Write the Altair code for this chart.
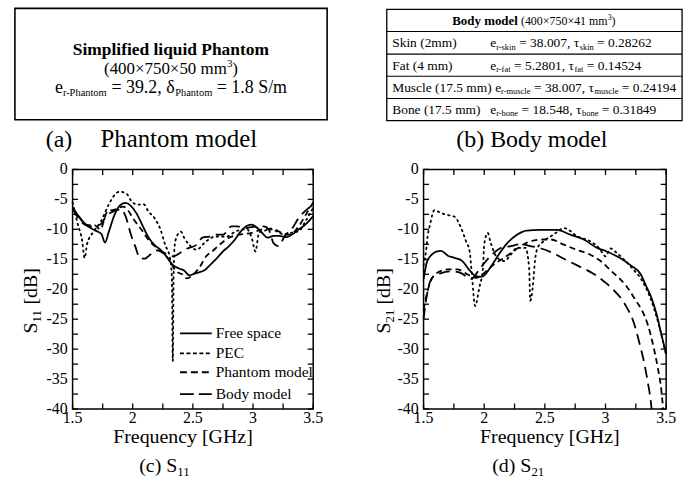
import altair as alt
import pandas as pd

FONT = "Liberation Serif"

# ---------------- data ----------------
SERIES = ["Free space", "PEC", "Phantom model", "Body model"]

s11_free_f = [1.5, 1.55, 1.6, 1.65, 1.7, 1.74, 1.77, 1.8, 1.85, 1.9, 1.94, 1.98, 2.03, 2.08, 2.13, 2.18,
              2.23, 2.28, 2.33, 2.38, 2.43, 2.47, 2.5, 2.55, 2.6, 2.65, 2.7, 2.75, 2.8, 2.85, 2.9, 2.95,
              2.99, 3.03, 3.08, 3.12, 3.17, 3.22, 3.28, 3.33, 3.38, 3.43, 3.5]
s11_free_v = [-6.3, -7.8, -9.0, -9.8, -10.3, -10.8, -12.2, -10.5, -7.5, -5.9, -5.6, -6.0, -7.3, -9.3, -11.3, -12.6,
              -13.4, -14.5, -15.9, -16.5, -16.9, -17.7, -17.5, -17.2, -16.8, -15.8, -14.8, -13.7, -12.8, -11.7, -10.3, -9.4,
              -9.2, -9.7, -10.7, -11.4, -11.1, -11.1, -11.3, -10.8, -10.0, -9.3, -7.8]

s11_pec_f = [1.5, 1.54, 1.58, 1.6, 1.62, 1.67, 1.73, 1.8, 1.84, 1.89, 1.95, 1.99, 2.04, 2.09, 2.13, 2.18, 2.23,
             2.27, 2.31, 2.325, 2.333, 2.34, 2.35, 2.37, 2.4, 2.43, 2.47, 2.53, 2.61, 2.69, 2.78, 2.86, 2.95,
             2.99, 3.02, 3.05, 3.1, 3.16, 3.21, 3.27, 3.33, 3.38, 3.44, 3.5]
s11_pec_v = [-5.5, -8.9, -12.0, -14.8, -12.5, -10.5, -8.9, -5.9, -4.5, -3.7, -4.1, -5.3, -5.9, -5.8, -7.0, -8.1, -10.0,
             -12.6, -14.8, -18.0, -32.0, -17.0, -12.5, -11.0, -10.4, -11.5, -12.6, -13.4, -12.0, -11.2, -11.2, -10.3, -10.0,
             -11.5, -13.7, -10.5, -10.2, -10.0, -10.5, -10.9, -10.5, -10.3, -8.5, -6.4]

s11_ph_f = [1.5, 1.55, 1.59, 1.63, 1.68, 1.73, 1.79, 1.85, 1.92, 1.96, 2.0, 2.07, 2.14, 2.22, 2.31, 2.36, 2.42,
            2.45, 2.5, 2.56, 2.61, 2.66, 2.72, 2.8, 2.885, 2.99, 3.08, 3.16, 3.24, 3.3, 3.38, 3.44, 3.5]
s11_ph_v = [-6.5, -7.8, -8.9, -9.3, -9.3, -10.0, -7.0, -6.7, -6.2, -6.8, -8.1, -10.0, -12.0, -13.4, -15.3, -17.0, -17.6,
            -18.2, -17.6, -16.2, -14.5, -13.7, -12.6, -11.4, -10.9, -10.6, -10.0, -9.9, -10.6, -10.9, -9.5, -7.5, -5.5]

s11_body_f = [1.5, 1.57, 1.65, 1.73, 1.78, 1.84, 1.91, 1.94, 1.99, 2.02, 2.06, 2.1, 2.13, 2.2, 2.27, 2.34, 2.39,
              2.43, 2.47, 2.53, 2.58, 2.64, 2.69, 2.75, 2.82, 2.87, 2.93, 3.0, 3.09, 3.13, 3.17, 3.21, 3.27,
              3.32, 3.38, 3.43, 3.5]
s11_body_v = [-6.5, -8.7, -9.5, -9.2, -7.8, -7.0, -6.7, -7.8, -11.2, -12.8, -14.8, -14.9, -14.5, -13.5, -14.0, -14.5, -14.0,
              -13.4, -13.1, -12.6, -11.4, -11.2, -10.9, -10.9, -9.5, -9.5, -9.8, -9.6, -9.5, -10.0, -12.3, -12.8, -10.9,
              -10.0, -8.1, -7.0, -5.9]

s21_free_f = [1.5, 1.53, 1.57, 1.61, 1.645, 1.7, 1.76, 1.82, 1.87, 1.93, 1.98, 2.05, 2.12, 2.19, 2.27, 2.35,
              2.46, 2.6, 2.71, 2.82, 2.93, 3.01, 3.12, 3.2, 3.29, 3.34, 3.38, 3.42, 3.46, 3.5]
s21_free_v = [-18.3, -15.3, -14.2, -13.7, -13.6, -14.4, -14.8, -15.3, -16.6, -17.8, -17.9, -16.4, -14.2, -12.3, -10.9, -10.2,
              -10.1, -10.1, -10.9, -11.7, -13.1, -13.7, -14.8, -15.9, -17.5, -19.7, -21.5, -24.1, -27.5, -30.8]

s21_pec_f = [1.5, 1.52, 1.535, 1.55, 1.59, 1.645, 1.7, 1.755, 1.81, 1.85, 1.88, 1.9, 1.925, 1.96, 1.99, 2.0, 2.03,
             2.05, 2.11, 2.165, 2.22, 2.27, 2.34, 2.37, 2.38, 2.4, 2.42, 2.44, 2.49, 2.57, 2.66, 2.77, 2.875,
             2.95, 3.0, 3.04, 3.09, 3.15, 3.22, 3.3, 3.38, 3.44, 3.5]
s21_pec_v = [-16.0, -13.7, -10.9, -9.5, -6.8, -7.3, -7.6, -7.9, -9.8, -12.0, -13.7, -18.0, -22.8, -19.7, -16.4, -12.5, -10.6,
             -12.0, -14.8, -15.3, -14.2, -13.1, -13.1, -16.4, -21.9, -19.7, -15.0, -13.1, -12.0, -10.9, -9.8, -11.2, -12.0,
             -13.2, -14.5, -13.2, -13.9, -15.0, -16.5, -18.5, -22.0, -26.0, -31.0]

s21_ph_f = [1.5, 1.52, 1.56, 1.61, 1.7, 1.78, 1.86, 1.93, 2.0, 2.07, 2.16, 2.24, 2.3, 2.38, 2.49, 2.55, 2.65,
            2.76, 2.87, 2.96, 3.05, 3.12, 3.18, 3.25, 3.3, 3.35, 3.39, 3.43, 3.46, 3.475]
s21_ph_v = [-23.5, -21.4, -18.6, -17.3, -16.7, -16.7, -17.5, -18.1, -17.3, -16.0, -14.8, -13.7, -12.8, -12.0, -11.7, -11.7,
            -12.5, -13.4, -14.2, -15.3, -17.0, -18.3, -19.7, -21.9, -23.5, -26.0, -29.1, -33.0, -36.8, -40.0]

s21_body_f = [1.5, 1.52, 1.57, 1.645, 1.73, 1.81, 1.89, 1.97, 2.05, 2.14, 2.22, 2.3, 2.38, 2.47, 2.56, 2.665,
              2.775, 2.9, 3.0, 3.06, 3.16, 3.24, 3.28, 3.32, 3.35, 3.37, 3.38]
s21_body_v = [-25.0, -21.9, -18.1, -17.3, -17.0, -17.3, -18.3, -16.4, -14.5, -13.1, -12.8, -12.5, -12.8, -13.2, -13.9, -15.0,
              -16.1, -17.4, -18.9, -20.0, -22.5, -26.0, -29.0, -32.4, -35.7, -38.2, -40.0]

TICK_X = [1.5, 1.75, 2.0, 2.25, 2.5, 2.75, 3.0, 3.25, 3.5]
TICK_Y = [0, -2.5, -5, -7.5, -10, -12.5, -15, -17.5, -20, -22.5, -25, -27.5, -30, -32.5, -35, -37.5, -40]
LABEL_X = [1.5, 2, 2.5, 3, 3.5]
LABEL_X_TEXT = ["1.5", "2", "2.5", "3", "3.5"]
LABEL_Y = [0, -5, -10, -15, -20, -25, -30, -35, -40]
LABEL_Y_TEXT = ["0", "-5", "-10", "-15", "-20", "-25", "-30", "-35", "-40"]

X_MIN, X_MAX = 1.5, 3.5
Y_MIN, Y_MAX = -40, 0

# ---------------- text metrics (Times) ----------------
TR = {' ': 250, '(': 333, ')': 333, ',': 250, '-': 333, '.': 250, '/': 278, '=': 564, '[': 333, ']': 333,
      '×': 564, '³': 300, 'δ': 500, 'τ': 440,
      'A': 722, 'B': 667, 'C': 667, 'D': 722, 'E': 611, 'F': 556, 'G': 722, 'H': 722, 'I': 333, 'M': 889,
      'P': 556, 'S': 556, 'T': 611,
      'a': 444, 'b': 500, 'c': 444, 'd': 500, 'e': 444, 'f': 333, 'g': 500, 'h': 500, 'i': 278, 'k': 500,
      'l': 278, 'm': 778, 'n': 500, 'o': 500, 'p': 500, 'q': 500, 'r': 333, 's': 389, 't': 278, 'u': 500,
      'v': 500, 'y': 500, 'z': 444}
TB = {' ': 250, '(': 333, ')': 333, 'B': 667, 'S': 556, 'P': 611, 'a': 500, 'd': 556, 'e': 444, 'f': 333,
      'h': 556, 'i': 278, 'l': 278, 'm': 833, 'n': 556, 'o': 500, 'p': 556, 'q': 556, 't': 333, 'u': 556,
      'y': 500}


def tw(s, size, bold=False):
    table = TB if bold else TR
    return sum(table.get(ch, 500) for ch in s) * size / 1000.0


ONE = pd.DataFrame({"k": [0]})


def txt(x, y, s, size, ox, oy, bold=False, align="left", angle=None):
    kw = dict(align=align, baseline="alphabetic", font=FONT, fontSize=size, color="black")
    if bold:
        kw["fontWeight"] = "bold"
    if angle is not None:
        kw["angle"] = angle
    return alt.Chart(ONE).mark_text(**kw).encode(
        x=alt.value(x - ox), y=alt.value(y - oy), text=alt.value(s))


def rich(segs, x0, y0, ox, oy, center=False):
    total = sum(tw(t, s, b) for t, s, d, b in segs)
    x = x0 - total / 2.0 if center else x0
    out = []
    for t, s, d, b in segs:
        lead = len(t) - len(t.lstrip(' '))
        st = t.strip(' ')
        if st:
            out.append(txt(x + tw(' ' * lead, s, b), y0 + d, st, s, ox, oy, bold=b))
        x += tw(t, s, b)
    return out


def rich_rot(segs, bx, y0, ox, oy):
    y = y0
    out = []
    for t, s, d, b in segs:
        lead = len(t) - len(t.lstrip(' '))
        st = t.strip(' ')
        if st:
            out.append(txt(bx + d, y - tw(' ' * lead, s, b), st, s, ox, oy, bold=b, angle=270))
        y -= tw(t, s, b)
    return out


def hline(x1, x2, y, ox, oy, w=1.2):
    return alt.Chart(ONE).mark_rule(color="black", strokeWidth=w).encode(
        x=alt.value(x1 - ox), x2=alt.value(x2 - ox), y=alt.value(y - oy))


def solid_rect(x1, y1, x2, y2):
    # small filled rectangle in panel pixel coordinates (used for tick marks)
    return alt.Chart(ONE).mark_rect(color="black", opacity=1).encode(
        x=alt.value(min(x1, x2)), x2=alt.value(max(x1, x2)),
        y=alt.value(min(y1, y2)), y2=alt.value(max(y1, y2)))


def box(x1, y1, x2, y2, ox, oy, w=1.5):
    return alt.Chart(ONE).mark_rect(filled=False, stroke="black", strokeWidth=w).encode(
        x=alt.value(x1 - ox), x2=alt.value(x2 - ox), y=alt.value(y1 - oy), y2=alt.value(y2 - oy))


def frame(x1, x2, ox, oy):
    # invisible rectangle fixing the extent of each panel
    return alt.Chart(ONE).mark_rect(filled=False, stroke="white", strokeOpacity=0, strokeWidth=0).encode(
        x=alt.value(x1 - ox), x2=alt.value(x2 - ox), y=alt.value(0 - oy), y2=alt.value(481 - oy))


XS = alt.Scale(domain=[X_MIN, X_MAX], nice=False, zero=False)
YS = alt.Scale(domain=[Y_MIN, Y_MAX], nice=False, zero=False)

DASHES = {"Free space": None, "PEC": [1.5, 4], "Phantom model": [6, 4], "Body model": [11, 6]}
LEG_DASHES = {"Free space": None, "PEC": [4, 2.5], "Phantom model": [7, 4], "Body model": [14, 5]}


def line_layer(f, v, name):
    df = pd.DataFrame({"f": f, "v": v})
    mk = dict(color="black", strokeWidth=1.8, interpolate="monotone")
    if DASHES[name]:
        mk["strokeDash"] = DASHES[name]
        if name == "PEC":
            mk["strokeCap"] = "round"
    return alt.Chart(df).mark_line(**mk).encode(
        x=alt.X("f:Q", scale=XS, axis=None),
        y=alt.Y("v:Q", scale=YS, axis=None))


def tick_layers(W, H):
    # inward ticks on all four sides, placed with the same linear mapping as the scales
    L = 5.5
    hw = 0.65
    out = []
    for t in TICK_X:
        px = (t - X_MIN) / (X_MAX - X_MIN) * W
        out.append(solid_rect(px - hw, H - L, px + hw, H))
        out.append(solid_rect(px - hw, 0, px + hw, L))
    for t in TICK_Y:
        py = (Y_MAX - t) / (Y_MAX - Y_MIN) * H
        out.append(solid_rect(0, py - hw, L, py + hw))
        out.append(solid_rect(W - L, py - hw, W, py + hw))
    return out


def label_layers(H):
    lx = pd.DataFrame({"f": LABEL_X, "lab": LABEL_X_TEXT})
    ly = pd.DataFrame({"v": LABEL_Y, "lab": LABEL_Y_TEXT})
    common = dict(font=FONT, fontSize=16, color="black")
    return [
        alt.Chart(lx).mark_text(align="center", baseline="top", dy=1, **common).encode(
            x=alt.X("f:Q", scale=XS, axis=None), y=alt.value(H), text="lab:N"),
        alt.Chart(ly).mark_text(align="right", baseline="middle", **common).encode(
            y=alt.Y("v:Q", scale=YS, axis=None), x=alt.value(-5), text="lab:N"),
    ]


OY = 168
H = 241

# ---------------- left panel ----------------
OXL = 72
WL = 242
left_layers = [frame(0, 347, OXL, OY)]
series_left = [(s11_free_f, s11_free_v), (s11_pec_f, s11_pec_v), (s11_ph_f, s11_ph_v), (s11_body_f, s11_body_v)]
for name, (f, v) in zip(SERIES, series_left):
    left_layers.append(line_layer(f, v, name))
left_layers += tick_layers(WL, H)
left_layers += label_layers(H)

# legend
leg_y = [333, 353, 372, 394]
for name, ly in zip(SERIES, leg_y):
    mk = dict(color="black", strokeWidth=1.8)
    if LEG_DASHES[name]:
        mk["strokeDash"] = LEG_DASHES[name]
    left_layers.append(alt.Chart(ONE).mark_rule(**mk).encode(
        x=alt.value(180 - OXL), x2=alt.value(212 - OXL), y=alt.value(ly - OY)))
    left_layers.append(txt(216, ly + 5, name, 15.5, OXL, OY))

# box (a)
left_layers.append(box(14, 6, 328, 118, OXL, OY, w=1.6))
left_layers += rich([("Simplified liquid Phantom", 17.5, 0, True)], 171, 53, OXL, OY, center=True)
left_layers += rich([("(400×750×50 mm", 17, 0, False), ("3", 11, -7, False), (")", 17, 0, False)],
                    171, 72, OXL, OY, center=True)
left_layers += rich([("e", 18, 0, False), ("r-Phantom", 10.5, 3, False), (" = 39.2, ", 18, 0, False),
                     ("δ", 18, 0, False), ("Phantom", 10.5, 3, False), (" = 1.8 S/m", 18, 0, False)],
                    171, 91, OXL, OY, center=True)
left_layers.append(txt(45, 145, "(a)", 24, OXL, OY))
left_layers.append(txt(100, 145, "Phantom model", 25, OXL, OY))

# titles
left_layers.append(txt(183, 443, "Frequency [GHz]", 20, OXL, OY, align="center"))
left_layers += rich_rot([("S", 20, 0, False), ("11", 13, 4, False), (" [dB]", 20, 0, False)], 36, 333, OXL, OY)
left_layers += rich([("(c) S", 20, 0, False), ("11", 13, 4, False)], 139, 472, OXL, OY)

left = alt.layer(*left_layers).properties(width=WL, height=H)

# ---------------- right panel ----------------
OXR = 423
WR = 244
right_layers = [frame(347, 694, OXR, OY)]
series_right = [(s21_free_f, s21_free_v), (s21_pec_f, s21_pec_v), (s21_ph_f, s21_ph_v), (s21_body_f, s21_body_v)]
for name, (f, v) in zip(SERIES, series_right):
    right_layers.append(line_layer(f, v, name))
right_layers += tick_layers(WR, H)
right_layers += label_layers(H)

# table (b)
TX1, TX2 = 386, 683
rows_y = [7, 29.3, 52, 74.3, 96.7, 119]
right_layers.append(box(TX1, rows_y[0], TX2, rows_y[-1], OXR, OY, w=1.3))
for ry in rows_y[1:-1]:
    right_layers.append(hline(TX1, TX2, ry, OXR, OY, w=1.1))
right_layers += rich([("Body model", 13, 0, True), (" (400×750×41 mm", 12, 0, False), ("3", 8, -5, False),
                      (")", 12, 0, False)], 534, 22.5, OXR, OY, center=True)

row_names = ["Skin (2mm)", "Fat (4 mm)", "Muscle (17.5 mm)", "Bone (17.5 mm)"]
row_sub = ["skin", "fat", "muscle", "bone"]
row_er = ["38.007", "5.2801", "38.007", "18.548"]
row_tau = ["0.28262", "0.14524", "0.24194", "0.31849"]
row_base = [45.3, 67.7, 89.8, 112.2]
row_x2 = [490, 490, 495, 490]
for nm, sb, er, ta, by, x2 in zip(row_names, row_sub, row_er, row_tau, row_base, row_x2):
    right_layers.append(txt(391.5, by, nm, 13.5, OXR, OY))
    right_layers += rich([("e", 13.5, 0, False), ("r-" + sb, 8.5, 2.5, False), (" = " + er + ", ", 13.5, 0, False),
                          ("τ", 13.5, 0, False), (sb, 8.5, 2.5, False), (" = " + ta, 13.5, 0, False)],
                         x2, by, OXR, OY)
right_layers += rich([("(b) Body model", 24, 0, False)], 532, 145, OXR, OY, center=True)

right_layers.append(txt(550, 443, "Frequency [GHz]", 20, OXR, OY, align="center"))
right_layers += rich_rot([("S", 20, 0, False), ("21", 13, 4, False), (" [dB]", 20, 0, False)], 389, 333, OXR, OY)
right_layers += rich([("(d) S", 20, 0, False), ("21", 13, 4, False)], 492, 472, OXR, OY)

right = alt.layer(*right_layers).properties(width=WR, height=H)

chart = alt.hconcat(left, right, spacing=0).properties(
    padding=0, background="white"
).configure_view(stroke="black", strokeWidth=1.5).configure_text(font=FONT)

chart.save("out.html", embed_options={"renderer": "svg", "actions": False})
